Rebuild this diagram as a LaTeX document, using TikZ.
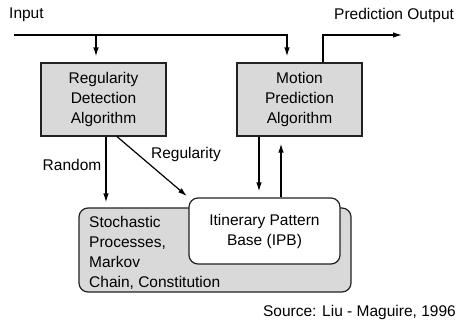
\documentclass[tikz,border=0pt]{standalone}
\usepackage{fontspec}
\setmainfont{Liberation Sans}
\usetikzlibrary{arrows.meta}
\definecolor{boxgray}{HTML}{D9D9D9}
\definecolor{edgegray}{HTML}{222222}
\begin{document}
\begin{tikzpicture}[x=1pt,y=-1pt,
  every node/.style={font=\fontsize{15.5}{20}\selectfont, inner sep=0pt},
  algobox/.style={draw=edgegray, line width=1.2pt, fill=boxgray, minimum width=125pt, minimum height=73pt, align=center},
  store/.style={draw=edgegray, line width=1.2pt, rounded corners=9pt},
  conn/.style={line width=1.2pt, -{Latex[length=9pt,width=5.5pt]}},
  lbl/.style={}]
  \useasboundingbox (0,0) rectangle (464,322);

  % algorithm boxes
  \node[algobox] (rda) at (103.5,99.5) {Regularity\\Detection\\Algorithm};
  \node[algobox] (mpa) at (299.5,99.5) {Motion\\Prediction\\Algorithm};

  % knowledge stores
  \node[store, fill=boxgray, minimum width=272pt, minimum height=84pt] (stoch) at (215,250) {};
  \node[anchor=west, align=left] (stochtxt) at (89,252.5) {Stochastic\\Processes,\\Markov\\Chain, Constitution};
  \node[store, fill=white, minimum width=151pt, minimum height=66pt, align=center] (ipb) at (264.5,231) {Itinerary Pattern\\Base (IPB)};

  % labels
  \node[anchor=west] (inlbl) at (9,15) {Input};
  \node[anchor=west] (outlbl) at (334,15) {Prediction Output};
  \node (rnd) at (72,165) {Random};
  \node (reg) at (186,154) {Regularity};
  \node[anchor=east] (src) at (456,312) {Source: Liu - Maguire, 1996};

  % input bus
  \coordinate (in) at (14,35);
  \coordinate (out) at (402,35);
  \draw[conn, shorten >=6pt] (in) -| ([xshift=-12.5pt]mpa.north);
  \draw[conn, shorten >=6pt] ([xshift=-7.5pt]rda.north |- in) -- ([xshift=-7.5pt]rda.north);

  % output
  \draw[conn] ([xshift=23.5pt]mpa.north) |- (out);

  % classification results
  \draw[conn, shorten >=5pt] ([xshift=2.5pt]rda.south) -- ([xshift=2.5pt]rda.south |- stoch.north);
  \draw[conn, shorten >=2pt] ([xshift=13.5pt]rda.south) -- (ipb.north west);

  % pattern base exchange
  \draw[conn, shorten >=6pt] ([xshift=-40.5pt]mpa.south) -- ([xshift=-40.5pt]mpa.south |- ipb.north);
  \draw[conn, shorten >=7pt] ([xshift=-18.5pt]mpa.south |- ipb.north) -- ([xshift=-18.5pt]mpa.south);
\end{tikzpicture}
\end{document}
